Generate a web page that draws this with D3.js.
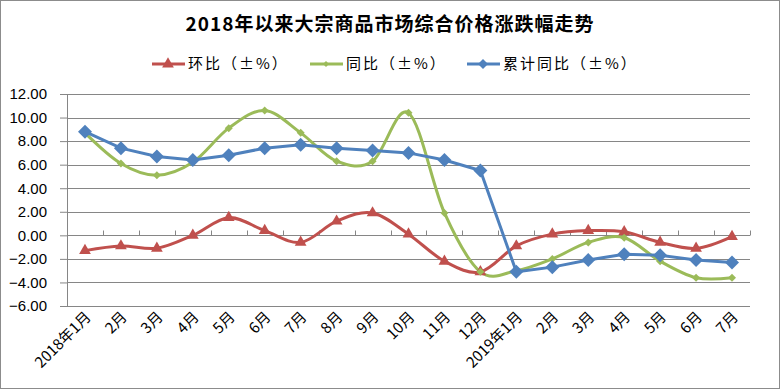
<!DOCTYPE html>
<html>
<head>
<meta charset="utf-8">
<script src="https://cdn.jsdelivr.net/npm/d3@7"></script>
<style>
  body { margin: 0; background: #fff; }
  svg text { font-family: "Noto Sans CJK SC", "Liberation Sans", sans-serif; }
</style>
</head>
<body>
<div id="chart"></div>
<script>
// Data
var months = ["2018年1月", "2月", "3月", "4月", "5月", "6月", "7月", "8月", "9月", "10月", "11月", "12月",
  "2019年1月", "2月", "3月", "4月", "5月", "6月", "7月"];
var huanbi = [-1.3, -0.9, -1.1, 0.0, 1.5, 0.4, -0.6, 1.2, 1.9, 0.1, -2.2, -3.1,
  -0.9, 0.1, 0.4, 0.3, -0.6, -1.1, -0.1];
var tongbi = [8.7, 6.1, 5.1, 6.2, 9.1, 10.6, 8.7, 6.3, 6.3, 10.4, 1.9, -3.1,
  -3.0, -2.0, -0.6, -0.2, -2.2, -3.6, -3.6];
var leiji = [8.8, 7.4, 6.7, 6.4, 6.8, 7.4, 7.7, 7.4, 7.2, 7.0, 6.4, 5.5,
  -3.1, -2.7, -2.1, -1.6, -1.7, -2.1, -2.3];
var yTicks = [-6, -4, -2, 0, 2, 4, 6, 8, 10, 12];

var svgWidth = 780;
var svgHeight = 389;

var margin = { top: 94, right: 30, bottom: 83, left: 67 };
var width = svgWidth - margin.left - margin.right;
var height = svgHeight - margin.top - margin.bottom;

var svg = d3.select("#chart").append("svg")
  .attr("width", svgWidth)
  .attr("height", svgHeight);

// outer border
svg.append("rect")
  .attr("x", 0.5).attr("y", 0.5)
  .attr("width", svgWidth - 1).attr("height", svgHeight - 1)
  .attr("fill", "#fff")
  .attr("stroke", "#8c8c8c");

svg.append("text")
  .attr("x", 390).attr("y", 31)
  .attr("text-anchor", "middle")
  .style("font-size", "19px")
  .style("letter-spacing", "1px")
  .style("font-weight", "bold")
  .text("2018年以来大宗商品市场综合价格涨跌幅走势");

var chartGroup = svg.append("g")
  .attr("transform", `translate(${margin.left}, ${margin.top})`);

var xScale = d3.scaleBand()
  .domain(d3.range(months.length))
  .range([0, width]);

var yScale = d3.scaleLinear()
  .domain([-6, 12])
  .range([height, 0]);

// gridlines + y labels
var leftAxis = d3.axisLeft(yScale)
  .tickValues(yTicks)
  .tickSize(7)
  .tickFormat(d3.format(".2f"));

chartGroup.selectAll(".grid")
  .data(yTicks)
  .enter()
  .append("line")
  .attr("x1", 0)
  .attr("x2", width)
  .attr("y1", d => Math.round(yScale(d)) + 0.5)
  .attr("y2", d => Math.round(yScale(d)) + 0.5)
  .attr("stroke", "#868686")
  .attr("stroke-width", 1);

var yAxis = chartGroup.append("g").call(leftAxis);
yAxis.select(".domain").remove();
yAxis.selectAll(".tick line").attr("stroke", "#868686");
yAxis.selectAll("text")
  .attr("x", -20)
  .style("font-size", "15px")
  .style("font-family", "'Liberation Sans', sans-serif")
  .attr("fill", "#000");

chartGroup.append("line")
  .attr("x1", 0.5).attr("x2", 0.5)
  .attr("y1", 0).attr("y2", height)
  .attr("stroke", "#868686");

// x axis sits at zero with ticks pointing up
var y0 = Math.round(yScale(0)) + 0.5;
chartGroup.selectAll(".xtick")
  .data(d3.range(months.length + 1))
  .enter()
  .append("line")
  .attr("x1", d => Math.round(d * xScale.step()) + 0.5)
  .attr("x2", d => Math.round(d * xScale.step()) + 0.5)
  .attr("y1", y0 - 5)
  .attr("y2", y0)
  .attr("stroke", "#868686");

// category labels at the bottom, rotated
chartGroup.selectAll(".xlabel")
  .data(months)
  .enter()
  .append("text")
  .attr("text-anchor", "end")
  .attr("transform", (d, i) => `translate(${xScale(i) + xScale.bandwidth() / 2 + 7}, ${height + 12}) rotate(-45)`)
  .style("font-size", "15px")
  .attr("fill", "#000")
  .text(d => d);

var cx = (d, i) => xScale(i) + xScale.bandwidth() / 2;

var smooth = d3.line()
  .x(cx)
  .y(d => yScale(d))
  .curve(d3.curveCatmullRom.alpha(0));

var straight = d3.line()
  .x(cx)
  .y(d => yScale(d));

var red = "#C0504D", green = "#9BBB59", blue = "#4F81BD";

chartGroup.append("path")
  .attr("d", smooth(huanbi))
  .attr("fill", "none")
  .attr("stroke", red)
  .attr("stroke-width", 3);

chartGroup.append("path")
  .attr("d", smooth(tongbi))
  .attr("fill", "none")
  .attr("stroke", green)
  .attr("stroke-width", 3);

chartGroup.append("path")
  .attr("d", straight(leiji))
  .attr("fill", "none")
  .attr("stroke", blue)
  .attr("stroke-width", 3);

var triangle = d3.symbol().type(d3.symbolTriangle).size(60);
var smallDiamond = "M0,-4L4,0L0,4L-4,0Z";
var bigDiamond = "M0,-7L7,0L0,7L-7,0Z";

chartGroup.selectAll(".mk-r")
  .data(huanbi)
  .enter()
  .append("path")
  .attr("d", triangle)
  .attr("transform", (d, i) => `translate(${cx(d, i)}, ${yScale(d)})`)
  .attr("fill", red);

chartGroup.selectAll(".mk-g")
  .data(tongbi)
  .enter()
  .append("path")
  .attr("d", smallDiamond)
  .attr("transform", (d, i) => `translate(${cx(d, i)}, ${yScale(d)})`)
  .attr("fill", green);

chartGroup.selectAll(".mk-b")
  .data(leiji)
  .enter()
  .append("path")
  .attr("d", bigDiamond)
  .attr("transform", (d, i) => `translate(${cx(d, i)}, ${yScale(d)})`)
  .attr("fill", blue);

// legend
var legend = [
  { name: "环比（±%）", color: red, x: 152, mark: triangle },
  { name: "同比（±%）", color: green, x: 310, mark: "M0,-3L3,0L0,3L-3,0Z" },
  { name: "累计同比（±%）", color: blue, x: 467, mark: "M0,-5L5,0L0,5L-5,0Z" }
];

var legendGroup = svg.append("g");
legend.forEach(function(l) {
  legendGroup.append("line")
    .attr("x1", l.x).attr("x2", l.x + 33)
    .attr("y1", 64).attr("y2", 64)
    .attr("stroke", l.color)
    .attr("stroke-width", 3);
  legendGroup.append("path")
    .attr("d", l.mark)
    .attr("transform", `translate(${l.x + 16}, 64)`)
    .attr("fill", l.color);
  legendGroup.append("text")
    .attr("x", l.x + 36)
    .attr("y", 69)
    .style("font-size", "15px")
    .style("letter-spacing", "2px")
    .attr("fill", "#000")
    .text(l.name);
});
</script>
</body>
</html>
